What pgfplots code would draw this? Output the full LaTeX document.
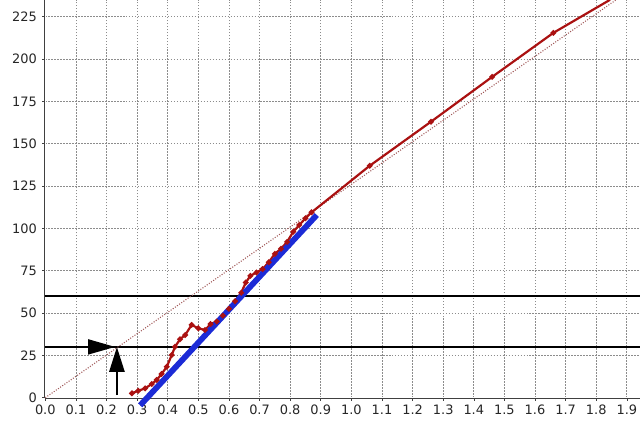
\documentclass[border=0pt]{standalone}
\usepackage{fontspec}
\setmainfont{DejaVu Sans}
\usepackage{pgfplots}
\pgfplotsset{compat=1.18}
\usetikzlibrary{arrows.meta}

\definecolor{curvered}{HTML}{AA1111}
\definecolor{fitblue}{HTML}{1C2BD6}
\definecolor{diagred}{HTML}{A05858}

\begin{document}
\begin{tikzpicture}[x=1bp,y=1bp]
\begin{axis}[
    at={(45.3bp,29.3bp)}, anchor=south west,
    scale only axis,
    width=594.7bp, height=397.7bp,
    xmin=0, xmax=1.943,
    ymin=0, ymax=234.9,
    clip=false,
    axis x line*=bottom,
    axis y line*=left,
    axis line style={black!75, line width=0.6pt, double distance=0.9pt, -},
    xtick={0,0.1,0.2,0.3,0.4,0.5,0.6,0.7,0.8,0.9,1.0,1.1,1.2,1.3,1.4,1.5,1.6,1.7,1.8,1.9},
    ytick={0,25,50,75,100,125,150,175,200,225},
    xticklabel style={/pgf/number format/fixed, /pgf/number format/fixed zerofill,
                      /pgf/number format/precision=1, yshift=-1bp},
    /pgf/number format/assume math mode=true,
    tick align=outside,
    major tick length=3bp,
    tick style={black!75, line width=0.6pt},
    ticklabel style={font=\fontsize{13}{15}\selectfont, text=black!85},
    yticklabel style={xshift=-2bp},
    xmajorgrids=true, ymajorgrids=true,
    grid style={gray!90, line width=0.8pt, dash pattern=on 1.5pt off 1.5pt},
]

% reference lines
\addplot[black, line width=1.8pt] coordinates {(0,60) (1.943,60)};
\addplot[black, line width=1.8pt] coordinates {(0,30) (1.943,30)};

% diagonal
\addplot[diagred, line width=1.1pt, dash pattern=on 1pt off 1.6pt] coordinates {(0,0) (1.865,235)};

% measured curve
\addplot[curvered, line width=2.2pt, mark=*, mark size=1.6pt, mark indices={1,...,36}]
coordinates {
    (0.283,2.6) (0.304,4.1) (0.326,5.5) (0.348,8.1) (0.364,10.5)
    (0.380,14) (0.397,18.3) (0.413,25.2) (0.424,30.1) (0.440,34.5)
    (0.457,37) (0.478,43) (0.500,41) (0.522,40) (0.540,43.5)
    (0.56,45) (0.58,48.5) (0.60,52.5) (0.62,57) (0.64,62)
    (0.655,68) (0.67,72) (0.69,74) (0.71,76) (0.73,80)
    (0.75,85) (0.77,88) (0.79,92) (0.81,98) (0.83,102)
    (0.85,106) (0.87,109.5) (1.06,137) (1.26,163) (1.46,189.5)
    (1.66,215.5) (1.845,235)
};

% fitted straight line
\addplot[fitblue, line width=5.8pt] coordinates {(0.31,-4.5) (0.887,107.9)};

% arrows
\addplot[black, line width=1.8pt, -{Triangle[length=27bp, width=15bp]}]
    coordinates {(0,30) (0.228,30)};
\addplot[black, line width=2.8pt, -{Triangle[length=25bp, width=15bp]}]
    coordinates {(0.234,1.5) (0.234,30)};

\end{axis}
\pgfresetboundingbox
\path (0,0) rectangle (640bp,427bp);
\end{tikzpicture}
\end{document}
